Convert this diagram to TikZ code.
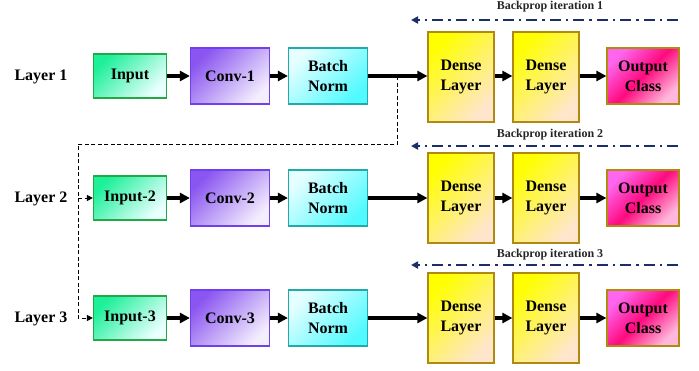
\documentclass[tikz,border=0pt]{standalone}
\usepackage{fontspec}
\setmainfont{Liberation Serif}
\usetikzlibrary{positioning, calc, arrows.meta, shapes}
\definecolor{ingreen}{HTML}{1EF09A}
\definecolor{inedge}{HTML}{22A844}
\definecolor{convpurple}{HTML}{8A55F0}
\definecolor{convedge}{HTML}{7040EE}
\definecolor{bncyan}{HTML}{50FAFF}
\definecolor{bnedge}{HTML}{22AAAA}
\definecolor{denseedge}{HTML}{B08A10}
\definecolor{outpink}{HTML}{FF0A7E}
\definecolor{outlight}{HTML}{FF66EE}
\definecolor{outpale}{HTML}{FFB8DC}
\definecolor{bpblue}{HTML}{1A2F6A}
\tikzset{
	boxnode/.style={
			rectangle,
			draw,
			line width=1.2pt,
			inner sep=0pt,
			align=center,
			font=\fontsize{16}{20}\selectfont\bfseries
		},
	inputnode/.style={
			boxnode,
			draw=inedge,
			top color=ingreen,
			bottom color=cyan!8,
			shading angle=45,
			minimum width=73pt,
			minimum height=44pt
		},
	convnode/.style={
			boxnode,
			draw=convedge,
			top color=convpurple,
			bottom color=white!90!convpurple,
			shading angle=45,
			minimum width=79pt,
			minimum height=56pt
		},
	bnnode/.style={
			boxnode,
			draw=bnedge,
			top color=white!85!bncyan,
			bottom color=bncyan,
			shading angle=45,
			minimum width=79pt,
			minimum height=56pt
		},
	densenode/.style={
			boxnode,
			draw=denseedge,
			top color=yellow,
			bottom color=orange!20,
			shading angle=45,
			minimum width=66pt,
			minimum height=90pt
		},
	outnode/.style={
			boxnode,
			draw=denseedge,
			top color=outlight,
			bottom color=outpale,
			middle color=outpink,
			shading angle=45,
			minimum width=72pt,
			minimum height=56pt
		},
	laynode/.style={
			font=\fontsize{16}{20}\selectfont\bfseries
		},
	bpnode/.style={
			font=\fontsize{12}{14}\selectfont\bfseries,
			text=black!85
		},
	flow/.style={
			line width=3.2pt,
			-{Triangle[length=10pt,width=10pt]}
		},
	backprop/.style={
			draw=bpblue,
			line width=2.2pt,
			dash pattern=on 11pt off 5pt on 2.5pt off 5pt,
			-{Triangle[length=7pt,width=7pt]}
		},
	skip/.style={
			line width=1pt,
			dash pattern=on 4pt off 2.5pt,
			-{Triangle[length=6pt,width=6pt]}
		}
}

\begin{document}
\begin{tikzpicture}[x=1pt, y=-1pt]
\useasboundingbox (0,0) rectangle (699,370);

% layer 1
\node[laynode] (lay1) at (41,77) {Layer 1};
\node[inputnode] (in1) at (130,76) {Input};
\node[convnode] (conv1) at (230,76) {Conv-1};
\node[bnnode] (bn1) at (328,76) {Batch\\Norm};
\node[densenode] (da1) at (461,77) {Dense\\Layer};
\node[densenode] (db1) at (546,77) {Dense\\Layer};
\node[outnode] (out1) at (643,76) {Output\\Class};

% layer 2
\node[laynode] (lay2) at (41,199) {Layer 2};
\node[inputnode] (in2) at (130,198) {Input-2};
\node[convnode] (conv2) at (230,198) {Conv-2};
\node[bnnode] (bn2) at (328,198) {Batch\\Norm};
\node[densenode] (da2) at (461,198) {Dense\\Layer};
\node[densenode] (db2) at (546,198) {Dense\\Layer};
\node[outnode] (out2) at (643,198) {Output\\Class};

% layer 3
\node[laynode] (lay3) at (41,319) {Layer 3};
\node[inputnode] (in3) at (130,318) {Input-3};
\node[convnode] (conv3) at (230,318) {Conv-3};
\node[bnnode] (bn3) at (328,318) {Batch\\Norm};
\node[densenode] (da3) at (461,318) {Dense\\Layer};
\node[densenode] (db3) at (546,318) {Dense\\Layer};
\node[outnode] (out3) at (643,318) {Output\\Class};

\draw[flow] (in1) -- (conv1);
\draw[flow] (conv1) -- (bn1);
\draw[flow] (bn1) -- (da1.west |- bn1);
\draw[flow] (da1.east |- out1) -- (db1.west |- out1);
\draw[flow] (db1.east |- out1) -- (out1);

\draw[flow] (in2) -- (conv2);
\draw[flow] (conv2) -- (bn2);
\draw[flow] (bn2) -- (da2);
\draw[flow] (da2) -- (db2);
\draw[flow] (db2) -- (out2);

\draw[flow] (in3) -- (conv3);
\draw[flow] (conv3) -- (bn3);
\draw[flow] (bn3) -- (da3);
\draw[flow] (da3) -- (db3);
\draw[flow] (db3) -- (out3);

% backprop arrows
\node[bpnode] (bp1) at (550,7) {Backprop iteration 1};
\node[bpnode] (bp2) at (550,135) {Backprop iteration 2};
\node[bpnode] (bp3) at (550,255) {Backprop iteration 3};
\coordinate (bs1) at (678,20);
\coordinate (be1) at (411,20);
\coordinate (bs2) at (678,146);
\coordinate (be2) at (411,146);
\coordinate (bs3) at (678,265);
\coordinate (be3) at (411,265);
\draw[backprop] (bs1) -- (be1);
\draw[backprop] (bs2) -- (be2);
\draw[backprop] (bs3) -- (be3);

% skip connection
\coordinate (tap) at ($(bn1.east)!0.5!(da1.west |- bn1)$);
\coordinate (sp) at (78,144);
\draw[skip] (tap) |- (sp) |- (in3.west);
\draw[skip] (sp |- in2.west) -- (in2.west);

\end{tikzpicture}
\end{document}
